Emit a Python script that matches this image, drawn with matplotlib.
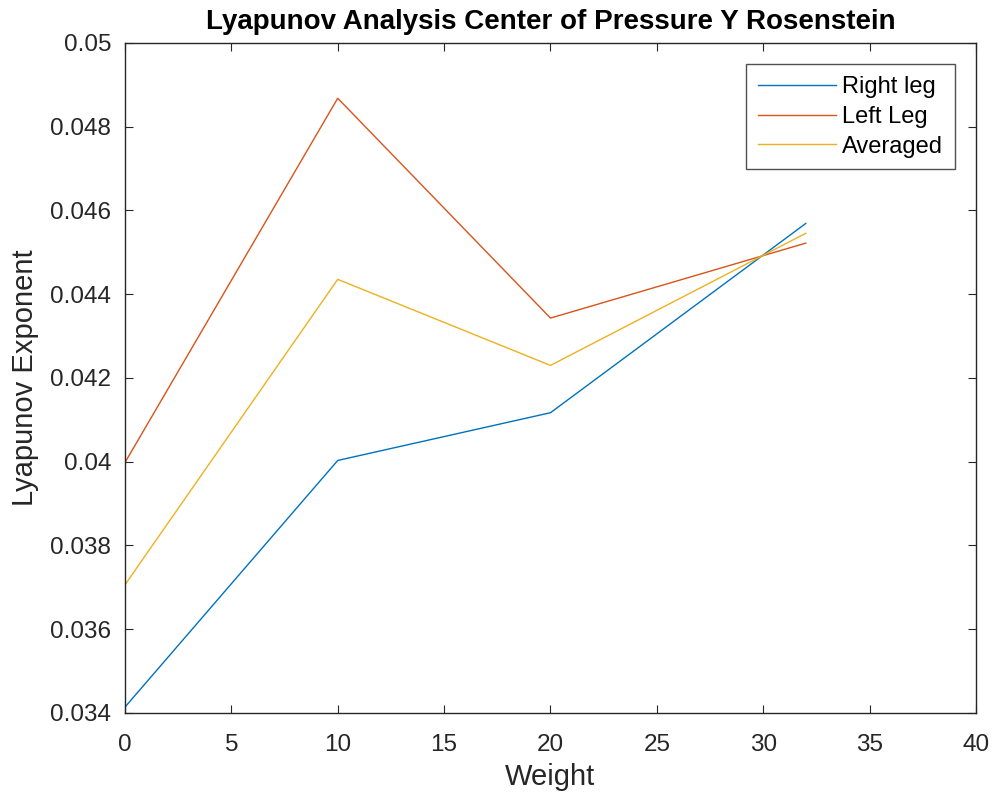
import matplotlib
matplotlib.use('Agg')
import matplotlib.pyplot as plt

plt.rcParams['font.family'] = ['Liberation Sans', 'DejaVu Sans']

weight = [0, 10, 20, 32]
right_leg = [0.03414, 0.04003, 0.04117, 0.04569]
left_leg = [0.03998, 0.04868, 0.04343, 0.04522]
averaged = [(r + l) / 2 for r, l in zip(right_leg, left_leg)]

xticks = [0, 5, 10, 15, 20, 25, 30, 35, 40]
yticks = [0.034, 0.036, 0.038, 0.04, 0.042, 0.044, 0.046, 0.048, 0.05]
ytick_labels = ['0.034', '0.036', '0.038', '0.04', '0.042', '0.044', '0.046', '0.048', '0.05']

# matlab default line colours
c_blue = (0.0, 0.447, 0.741)
c_red = (0.85, 0.325, 0.098)
c_yel = (0.929, 0.694, 0.125)
dark = '#262626'

fig = plt.figure(figsize=(9.95, 8.0), dpi=100)
ax = fig.add_axes([0.1256, 0.1088, 0.8553, 0.8375])

ax.plot(weight, right_leg, color=c_blue, lw=1.0, label='Right leg')
ax.plot(weight, left_leg, color=c_red, lw=1.0, label='Left Leg')
ax.plot(weight, averaged, color=c_yel, lw=1.0, label='Averaged')

ax.set_xlim(0, 40)
ax.set_ylim(0.034, 0.05)
ax.set_xticks(xticks)
ax.set_yticks(yticks)
ax.set_yticklabels(ytick_labels)
ax.tick_params(direction='in', top=True, right=True, length=6, width=0.8,
               labelsize=17.5, colors=dark)
ax.tick_params(axis='x', pad=15)
ax.tick_params(axis='y', pad=10)
for s in ax.spines.values():
    s.set_color(dark)
    s.set_linewidth(1.0)

ax.set_title('Lyapunov Analysis Center of Pressure Y Rosenstein',
             fontsize=20, fontweight='bold', pad=10)
ax.set_xlabel('Weight', fontsize=21, color=dark, labelpad=5)
ax.set_ylabel('Lyapunov Exponent', fontsize=21, color=dark, labelpad=8)

leg = ax.legend(loc='upper right', fontsize=17, frameon=True, fancybox=False,
                edgecolor=dark, handlelength=3.3, handletextpad=0.25,
                borderaxespad=0.9, labelspacing=0.33, borderpad=0.5)
leg.get_frame().set_linewidth(1.0)

fig.savefig('out.png', dpi=100)
